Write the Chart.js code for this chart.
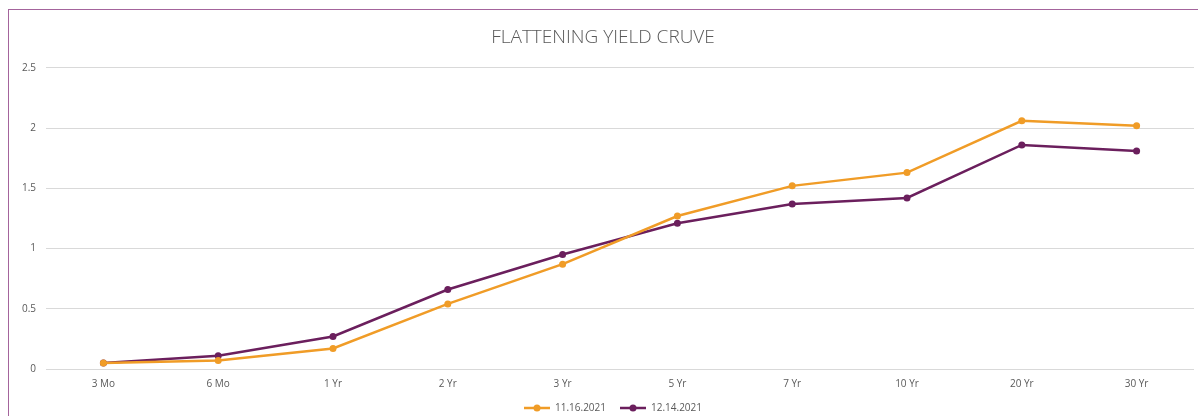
<!DOCTYPE html>
<html>
<head>
<meta charset="utf-8">
<script src="https://cdn.jsdelivr.net/npm/chart.js@4.4.0/dist/chart.umd.min.js"></script>
<style>
  html, body { margin: 0; padding: 0; background: #fff; overflow: hidden; }
  #frame {
    position: absolute; left: 8px; top: 9px; width: 1400px; height: 600px;
    border-top: 1px solid #a4649c; border-left: 1px solid #a4649c;
  }
  #wrap { position: absolute; left: 0; top: 0; width: 1198px; height: 416px; }
</style>
</head>
<body>
<div id="frame"></div>
<div id="wrap"><canvas id="chart"></canvas></div>
<script>
// maturities on the x axis
const maturities = ['3 Mo', '6 Mo', '1 Yr', '2 Yr', '3 Yr', '5 Yr', '7 Yr', '10 Yr', '20 Yr', '30 Yr'];

// treasury yields (%)
const yieldsNov16 = [0.05, 0.07, 0.17, 0.54, 0.87, 1.27, 1.52, 1.63, 2.06, 2.02];
const yieldsDec14 = [0.05, 0.11, 0.27, 0.66, 0.95, 1.21, 1.37, 1.42, 1.86, 1.81];

const seriesNames = ['11.16.2021', '12.14.2021'];
const yTicks = [0, 0.5, 1, 1.5, 2, 2.5];

const orange = '#f09c27';
const purple = '#6b1f5d';

// legend marker: short line with a dot in the middle (Excel style)
function makeMarker(color) {
    const c = document.createElement('canvas');
    c.width = 26; c.height = 10;
    const g = c.getContext('2d');
    g.strokeStyle = color;
    g.lineWidth = 2.5;
    g.beginPath();
    g.moveTo(0, 5); g.lineTo(26, 5);
    g.stroke();
    g.fillStyle = color;
    g.beginPath();
    g.arc(13, 5, 3.5, 0, Math.PI * 2);
    g.fill();
    return c;
}

// nudge the legend a bit (right and up), like the original
const legendShift = {
    id: 'legendShift',
    afterLayout(chart) {
        const lg = chart.legend;
        if (lg) {
            lg.left += 10; lg.right += 10;
            lg.top -= 4; lg.bottom -= 4;
        }
    }
};

const ctx = document.getElementById('chart').getContext('2d');
new Chart(ctx, {
    type: 'line',
    plugins: [legendShift],
    data: {
        labels: maturities,
        datasets: [{
            label: seriesNames[0],
            data: yieldsNov16,
            borderColor: orange,
            backgroundColor: orange,
            borderWidth: 2.5,
            pointRadius: 3.5,
            pointBackgroundColor: orange,
            pointBorderWidth: 0,
            pointStyle: 'circle',
            tension: 0
        }, {
            label: seriesNames[1],
            data: yieldsDec14,
            borderColor: purple,
            backgroundColor: purple,
            borderWidth: 2.5,
            pointRadius: 3.5,
            pointBackgroundColor: purple,
            pointBorderWidth: 0,
            pointStyle: 'circle',
            tension: 0
        }]
    },
    options: {
        responsive: true,
        maintainAspectRatio: false,
        animation: false,
        layout: { padding: { left: 10, right: 2, top: 0, bottom: -11 } },
        plugins: {
            title: {
                display: true,
                text: 'FLATTENING YIELD CRUVE',
                color: '#595959',
                font: { family: 'Open Sans', size: 19, weight: '300' },
                padding: { top: 26, bottom: 19 }
            },
            legend: {
                position: 'bottom',
                labels: {
                    usePointStyle: true,
                    pointStyleWidth: 26,
                    color: '#595959',
                    font: { family: 'Open Sans', size: 10 },
                    padding: 14,
                    generateLabels(chart) {
                        return chart.data.datasets.map((ds, i) => ({
                            text: ds.label,
                            fillStyle: ds.borderColor,
                            strokeStyle: ds.borderColor,
                            fontColor: '#595959',
                            pointStyle: makeMarker(ds.borderColor),
                            lineWidth: 0,
                            datasetIndex: i
                        }));
                    }
                }
            },
            tooltip: { enabled: false }
        },
        scales: {
            x: {
                offset: true,
                grid: { display: false, drawTicks: false },
                border: { display: false },
                ticks: {
                    color: '#595959',
                    font: { family: 'Open Sans', size: 10 },
                    padding: 9,
                    maxRotation: 0
                },
                afterFit(scale) { scale.height = 24; }
            },
            y: {
                min: 0,
                max: 2.5,
                afterBuildTicks(scale) { scale.ticks = yTicks.map(v => ({ value: v })); },
                grid: { color: '#d9d9d9', lineWidth: 1, drawTicks: false },
                border: { display: false },
                ticks: {
                    color: '#595959',
                    font: { family: 'Open Sans', size: 10 },
                    padding: 10,
                    callback: v => String(v)
                },
                afterFit(scale) { scale.width = 36; }
            }
        }
    }
});
</script>
</body>
</html>
